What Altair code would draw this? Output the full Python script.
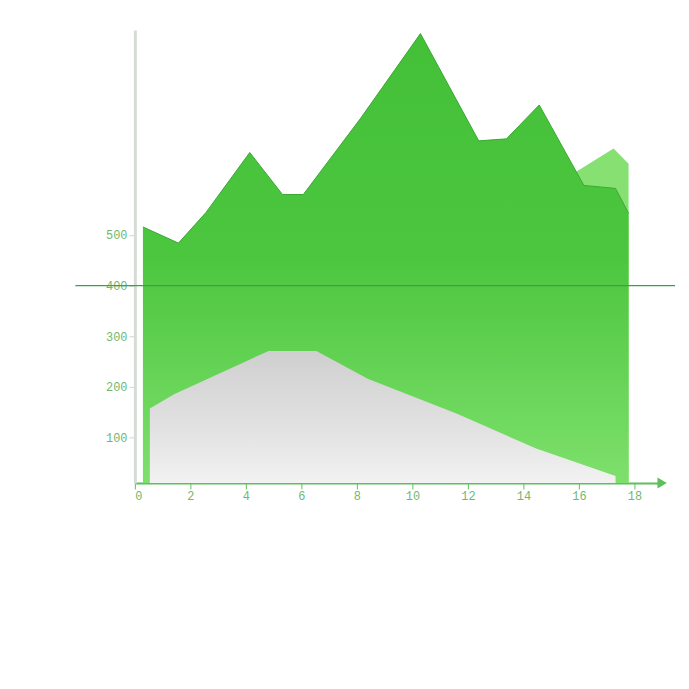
import altair as alt
import pandas as pd

# main green series
green_x = [0.29, 1.57, 2.57, 4.14, 5.32, 6.07, 8.14, 10.29, 12.39, 13.39, 14.57, 16.18, 17.32, 17.79]
green_y = [516, 484, 545, 663, 580, 580, 731, 898, 686, 690, 757, 598, 592, 543]

# lighter green series peeking out on the right
light_x = [15.9, 17.25, 17.79]
light_y = [625, 671, 641]

# grey series in front
gray_x = [0.54, 1.43, 4.82, 6.54, 8.39, 11.61, 14.46, 17.32]
gray_y = [157, 186, 271, 271, 216, 147, 78, 24]

y_ticks = [100, 200, 300, 400, 500]
x_ticks = [0, 2, 4, 6, 8, 10, 12, 14, 16, 18]
ref_value = 400

BASE = 10
green = pd.DataFrame({"x": green_x, "y": green_y, "b": BASE})
light = pd.DataFrame({"x": light_x, "y": light_y, "b": BASE})
gray = pd.DataFrame({"x": gray_x, "y": gray_y, "b": BASE})

xs = alt.Scale(domain=[0, 19], nice=False, zero=False)
ys = alt.Scale(domain=[BASE, 905], nice=False, zero=False)

lab_color = "#6fb86f"

x_axis = alt.Axis(values=x_ticks, grid=False, domainColor="#5cc05c", domainWidth=2,
                  tickColor="#5cc05c", labelColor=lab_color, labelFont="Liberation Mono",
                  labelFontSize=12, title=None, tickSize=6)
y_axis = alt.Axis(values=y_ticks, grid=False, domainColor="#d4dcd4", domainWidth=3,
                  tickColor="#c8d8c8", labelColor=lab_color, labelFont="Liberation Mono",
                  labelFontSize=12, title=None, minExtent=60, maxExtent=60, tickSize=6)

light_layer = alt.Chart(light).mark_area(color="#86e072", opacity=1).encode(
    x=alt.X("x:Q", scale=xs, axis=x_axis),
    y=alt.Y("y:Q", scale=ys, axis=y_axis),
    y2="b:Q",
)

green_layer = alt.Chart(green).mark_area(
    opacity=1,
    color=alt.Gradient(
        gradient="linear", x1=0, x2=0, y1=0, y2=1,
        stops=[alt.GradientStop(color="#44c038", offset=0),
               alt.GradientStop(color="#4cc63f", offset=0.5),
               alt.GradientStop(color="#7ee06c", offset=1)],
    ),
    line={"color": "#3aa832", "strokeWidth": 1},
).encode(x=alt.X("x:Q", scale=xs), y=alt.Y("y:Q", scale=ys), y2="b:Q")

rule_layer = alt.Chart(pd.DataFrame({"v": [ref_value]})).mark_rule(
    color="#3f9f45", strokeWidth=1.5, clip=False
).encode(y=alt.Y("v:Q", scale=ys), x=alt.value(-60), x2=alt.value(545))

gray_layer = alt.Chart(gray).mark_area(
    opacity=1,
    color=alt.Gradient(
        gradient="linear", x1=0, x2=0, y1=0, y2=1,
        stops=[alt.GradientStop(color="#cfcfcf", offset=0),
               alt.GradientStop(color="#e2e2e2", offset=0.6),
               alt.GradientStop(color="#f2f2f2", offset=1)],
    ),
).encode(x=alt.X("x:Q", scale=xs), y=alt.Y("y:Q", scale=ys), y2="b:Q")

arrow = alt.Chart(pd.DataFrame({"x": [19], "y": [BASE]})).mark_point(
    shape="triangle-right", filled=True, color="#5cc05c", size=120, opacity=1, clip=False
).encode(x=alt.X("x:Q", scale=xs), y=alt.Y("y:Q", scale=ys))

chart = alt.layer(light_layer, green_layer, rule_layer, gray_layer, arrow).properties(
    width=532, height=457,
    padding={"left": 67, "top": 20, "right": 5, "bottom": 5},
    background="white",
).configure_view(stroke=None)

chart.save("out.html", embed_options={"renderer": "svg", "actions": False})
